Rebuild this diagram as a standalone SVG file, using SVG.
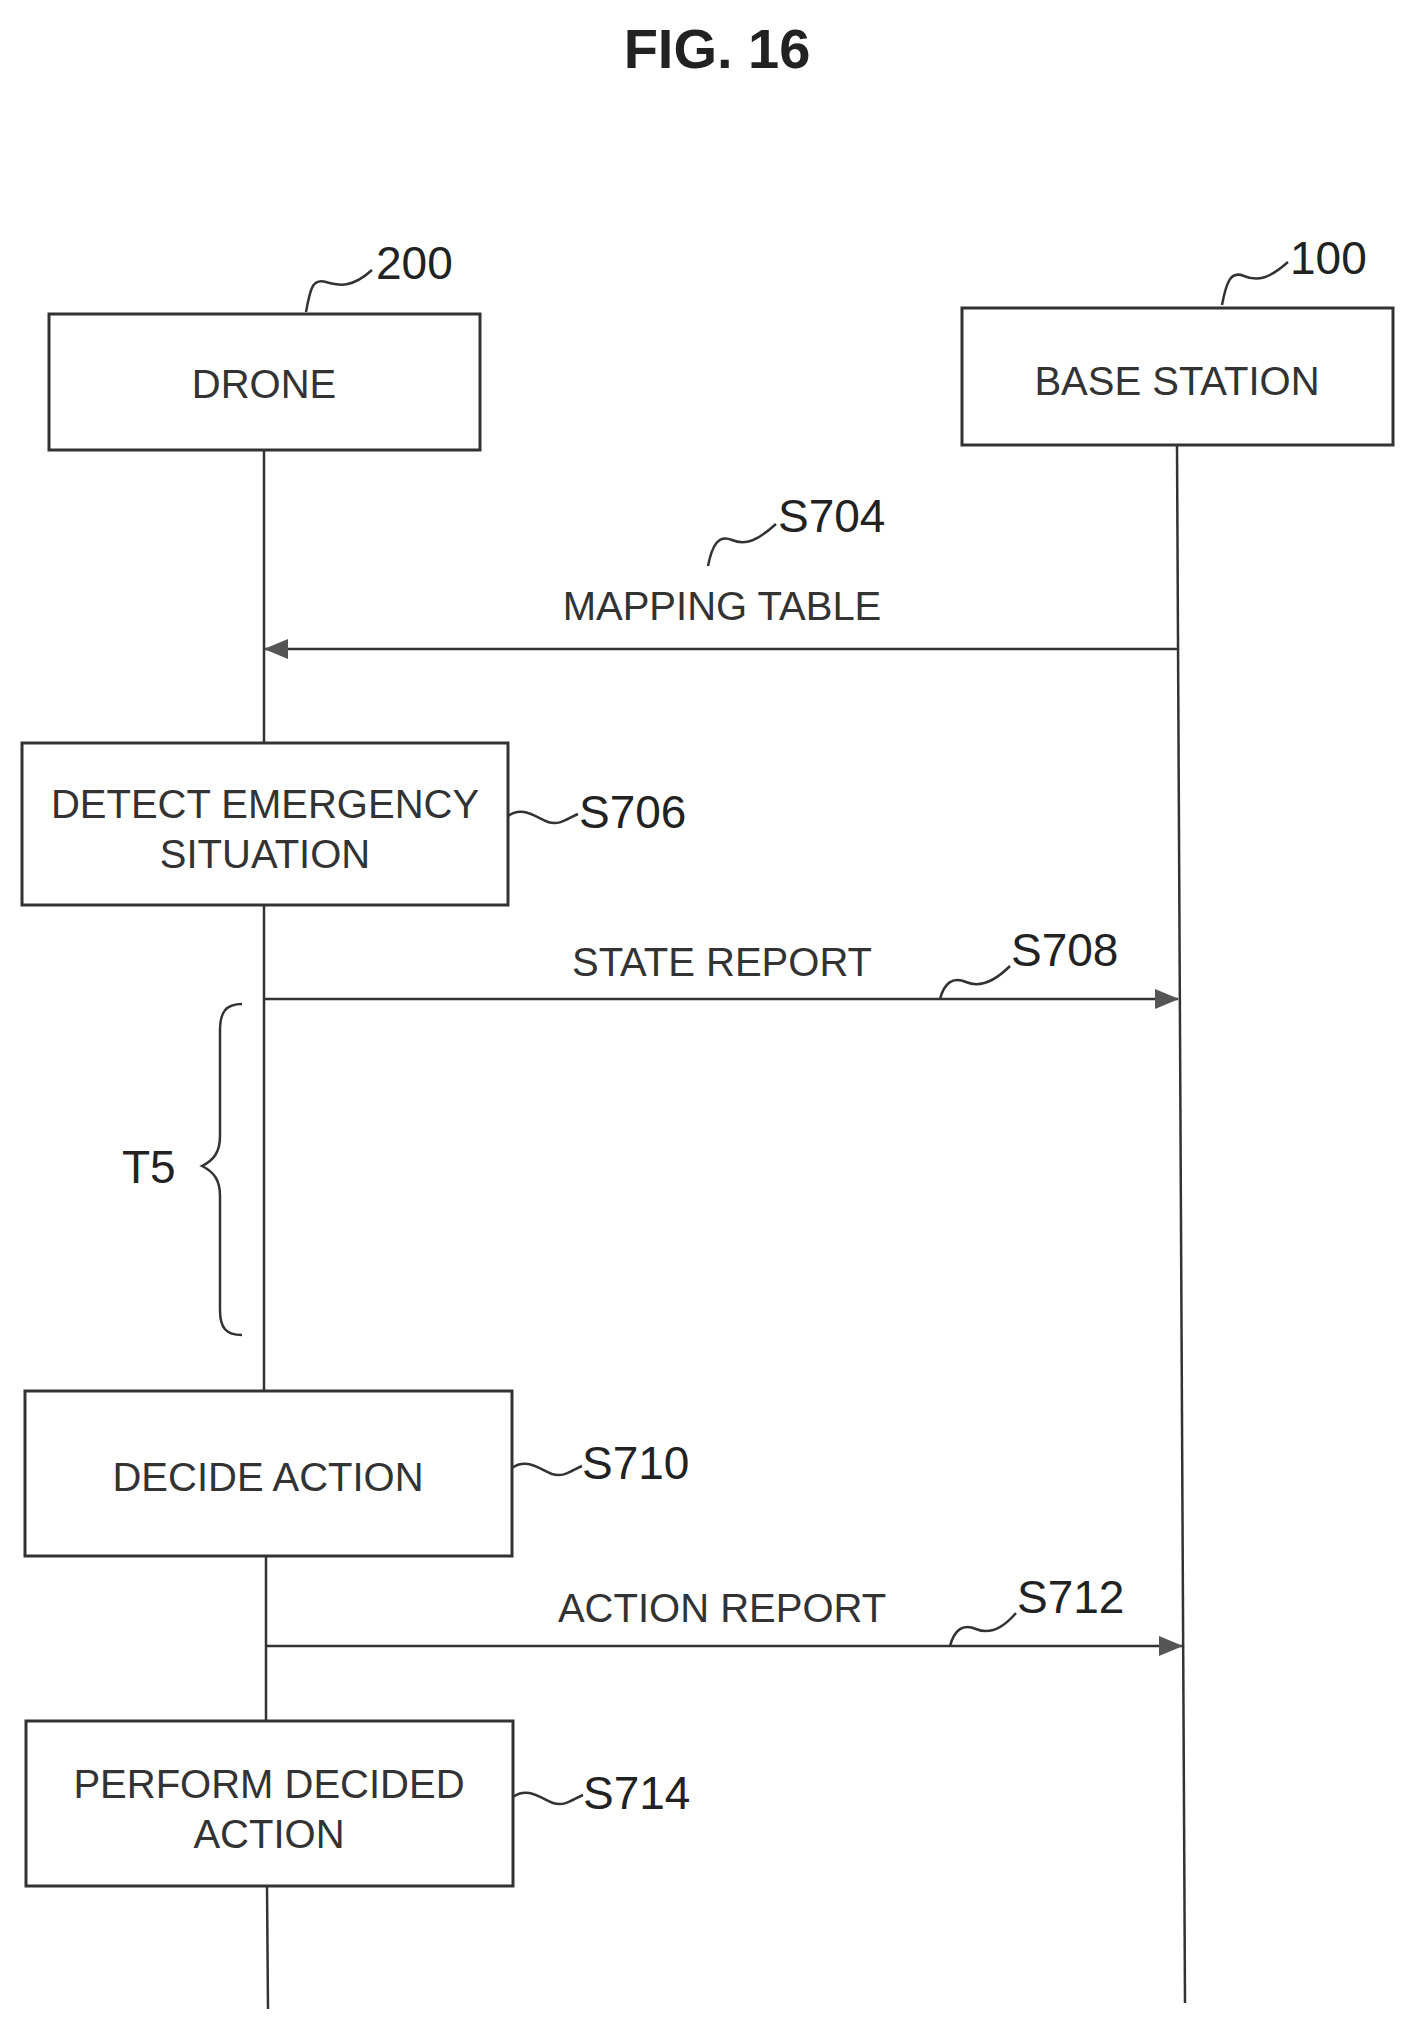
<svg xmlns="http://www.w3.org/2000/svg" width="1408" height="2021" viewBox="0 0 1408 2021">
<style>
.box{fill:#fff;stroke:#333;stroke-width:3}
.ln{stroke:#333;stroke-width:2.5;fill:none}
.t{font-family:"Liberation Sans",Arial,sans-serif;font-size:40px;fill:#333;text-anchor:middle}
.lb{font-family:"Liberation Sans",Arial,sans-serif;font-size:46px;fill:#222}
</style>
<defs>
<marker id="ah" markerWidth="12" markerHeight="10" refX="11" refY="5" orient="auto" markerUnits="userSpaceOnUse" viewBox="0 0 12 10">
<path d="M0,0 L12,5 L0,10 Z" fill="#444"/>
</marker>
<marker id="ahl" markerWidth="24" markerHeight="20" refX="23" refY="10" orient="auto" markerUnits="userSpaceOnUse" viewBox="0 0 24 20">
<path d="M0,0 L24,10 L0,20 Z" fill="#555"/>
</marker>
</defs>
<rect width="1408" height="2021" fill="#fff"/>
<text x="717" y="68" font-family="Liberation Sans,Arial,sans-serif" font-size="56" font-weight="bold" text-anchor="middle" fill="#222">FIG. 16</text>
<g id="connectors">
<line class="ln" x1="264" y1="450" x2="264" y2="743"/>
<line class="ln" x1="264" y1="905" x2="264" y2="1391"/>
<line class="ln" x1="266" y1="1556" x2="266" y2="1721"/>
<line class="ln" x1="267" y1="1886" x2="268" y2="2009"/>
<line class="ln" x1="1177" y1="445" x2="1185" y2="2003"/>
<line class="ln" x1="1177" y1="649" x2="265" y2="649" marker-end="url(#ahl)"/>
<line class="ln" x1="265" y1="999" x2="1178" y2="999" marker-end="url(#ahl)"/>
<line class="ln" x1="266" y1="1646" x2="1182" y2="1646" marker-end="url(#ahl)"/>
<path class="ln" d="M306,312 C310,290 312,278 326,282 C340,286 352,288 372,270"/>
<path class="ln" d="M1222,305 C1226,284 1230,270 1244,276 C1258,282 1270,278 1288,262"/>
<path class="ln" d="M708,566 C712,546 718,534 732,540 C746,546 758,540 776,524"/>
<path class="ln" d="M508,816 C522,806 534,816 548,822 C560,826 568,818 578,814"/>
<path class="ln" d="M940,999 C944,984 952,976 966,982 C980,988 996,980 1010,966"/>
<path class="ln" d="M512,1468 C526,1458 538,1468 552,1474 C564,1478 572,1470 582,1466"/>
<path class="ln" d="M950,1646 C954,1631 962,1623 976,1629 C990,1635 1004,1627 1016,1613"/>
<path class="ln" d="M513,1797 C527,1787 539,1797 553,1803 C565,1807 573,1799 583,1795"/>
<path class="ln" d="M242,1004 C226,1004 220,1012 220,1030 L220,1136 C220,1152 214,1160 202,1166 C214,1172 220,1180 220,1196 L220,1310 C220,1328 226,1335 242,1335"/>
</g>
<g id="drone"><rect class="box" x="49" y="314" width="431" height="136"/><text class="t" x="264" y="398">DRONE</text></g>
<g id="base"><rect class="box" x="962" y="308" width="431" height="137"/><text class="t" x="1177" y="395">BASE STATION</text></g>
<text class="lb" x="376" y="279">200</text>
<text class="lb" x="1290" y="274">100</text>
<g id="s704"><text class="t" x="722" y="620">MAPPING TABLE</text><text class="lb" x="778" y="532">S704</text></g>
<g id="s706"><rect class="box" x="22" y="743" width="486" height="162"/><text class="t" x="265" y="818">DETECT EMERGENCY</text><text class="t" x="265" y="868">SITUATION</text><text class="lb" x="579" y="828">S706</text></g>
<g id="s708"><text class="t" x="722" y="976">STATE REPORT</text><text class="lb" x="1011" y="966">S708</text></g>
<g id="t5"><text class="lb" x="122" y="1183">T5</text></g>
<g id="s710"><rect class="box" x="25" y="1391" width="487" height="165"/><text class="t" x="268" y="1491">DECIDE ACTION</text><text class="lb" x="582" y="1479">S710</text></g>
<g id="s712"><text class="t" x="722" y="1622">ACTION REPORT</text><text class="lb" x="1017" y="1613">S712</text></g>
<g id="s714"><rect class="box" x="26" y="1721" width="487" height="165"/><text class="t" x="269" y="1798">PERFORM DECIDED</text><text class="t" x="269" y="1848">ACTION</text><text class="lb" x="583" y="1809">S714</text></g>
</svg>
